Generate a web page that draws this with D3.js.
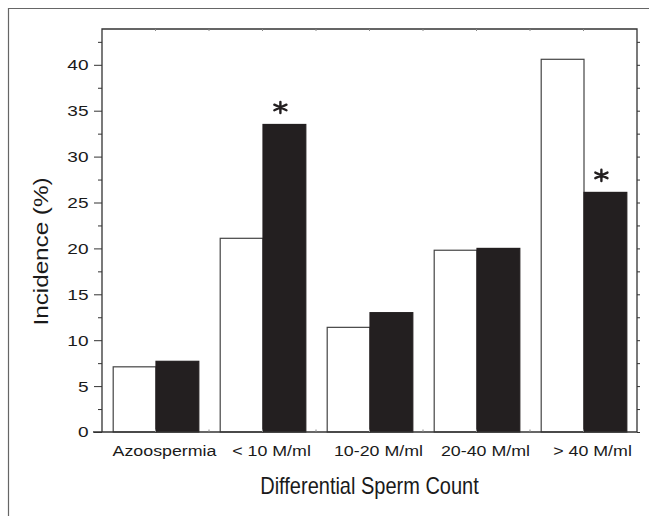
<!DOCTYPE html>
<html><head><meta charset="utf-8">
<script src="https://cdn.jsdelivr.net/npm/d3@7"></script>
<style>body{margin:0;background:#fff}svg{display:block}text{font-family:"Liberation Sans",Arial,sans-serif}</style>
</head><body>
<svg id="c" width="649" height="516"></svg>
<script>
const categories = ["Azoospermia", "< 10 M/ml", "10-20 M/ml", "20-40 M/ml", "> 40 M/ml"];
const seriesNames = ["Group A", "Group B"];
const whiteValues = [7.1, 21.1, 11.4, 19.8, 40.6];
const blackValues = [7.7, 33.5, 13.0, 20.0, 26.1];
const significant = [false, true, false, false, true];
const yMajorTicks = [0, 5, 10, 15, 20, 25, 30, 35, 40];
const yMinorTicks = [2.5, 7.5, 12.5, 17.5, 22.5, 27.5, 32.5, 37.5, 42.5];

const svg = d3.select("#c");
const m = {left: 102, right: 637, top: 29, bottom: 432};
const axisColor = "#333";
const textColor = "#1a1a1a";

// outer frame
svg.append("path").attr("d", "M8.5,516 V8.5 H649").attr("fill", "none").attr("stroke", "#666").attr("stroke-width", 1.2);

const x = d3.scaleBand().domain(categories).range([m.left, m.right]).paddingInner(0.2).paddingOuter(0.1);
const y = d3.scaleLinear().domain([0, 43.9]).range([m.bottom, m.top]);
const xs = d3.scaleBand().domain(seriesNames).range([0, x.bandwidth()]);

const data = categories.map((c, i) => ({c, vals: [whiteValues[i], blackValues[i]], sig: significant[i]}));

const groups = svg.append("g").selectAll("g.grp").data(data).join("g").attr("transform", d => `translate(${x(d.c)},0)`);
groups.selectAll("rect").data(d => d.vals.map((v, j) => ({v, s: seriesNames[j], j})))
  .join("rect")
  .attr("x", d => xs(d.s) + 0.5)
  .attr("y", d => y(d.v))
  .attr("width", xs.bandwidth())
  .attr("height", d => y(0) - y(d.v))
  .attr("fill", d => d.j === 0 ? "#fff" : "#231f20")
  .attr("stroke", d => d.j === 0 ? "#444" : "#231f20")
  .attr("stroke-width", 1.2);

// asterisks (6-armed, slightly wide)
const r = 5.6;
const astPath = `M0,${-r}V${r}` +
  `M${-r*0.866*1.25},${-r/2}L${r*0.866*1.25},${r/2}` +
  `M${-r*0.866*1.25},${r/2}L${r*0.866*1.25},${-r/2}`;
groups.filter(d => d.sig).append("path")
  .attr("transform", d => `translate(${xs("Group B") + xs.bandwidth() / 2 - 3.5},${y(d.vals[1]) - 17})`)
  .attr("d", astPath)
  .attr("stroke", "#231f20").attr("stroke-width", 2.4).attr("stroke-linecap", "round").attr("fill", "none");

// Left axis major ticks
const left = svg.append("g").attr("transform", `translate(${m.left},0)`)
  .call(d3.axisLeft(y).tickValues(yMajorTicks).tickSize(8).tickFormat(""));
left.select(".domain").remove();
left.selectAll("line").attr("stroke", axisColor);
// Left minor
const leftMinor = svg.append("g").attr("transform", `translate(${m.left},0)`)
  .call(d3.axisLeft(y).tickValues(yMinorTicks).tickSize(4).tickFormat(""));
leftMinor.select(".domain").remove();
leftMinor.selectAll("line").attr("stroke", axisColor);
// Y tick labels (wide rendering)
svg.append("g").selectAll("text").data(yMajorTicks).join("text")
  .attr("transform", d => `translate(88.5,${y(d) + 5.4}) scale(1.27,1)`)
  .attr("text-anchor", "end").attr("font-size", 15).attr("fill", textColor)
  .text(d => d3.format("d")(d));

// Right axis ticks
const right = svg.append("g").attr("transform", `translate(${m.right},0)`)
  .call(d3.axisRight(y).tickValues(yMajorTicks.concat(yMinorTicks)).tickSize(3).tickFormat(""));
right.select(".domain").remove();
right.selectAll("line").attr("stroke", axisColor);

// Frame lines
svg.append("path").attr("d", `M${m.left},${m.bottom} V${m.top} H${m.right} V${m.bottom}`)
  .attr("fill", "none").attr("stroke", axisColor).attr("stroke-width", 1.3);
svg.append("line").attr("x1", 93).attr("x2", m.right).attr("y1", m.bottom).attr("y2", m.bottom)
  .attr("stroke", axisColor).attr("stroke-width", 1.6);

// Top/bottom small ticks at centers and boundaries
const xTickPos = [];
categories.forEach(c => { xTickPos.push(x(c) - x.step() * 0.1); xTickPos.push(x(c) + x.bandwidth() / 2); });
const innerTicks = xTickPos.slice(1);
svg.append("g").selectAll("line").data(innerTicks).join("line")
  .attr("x1", d => d).attr("x2", d => d).attr("y1", m.top).attr("y2", m.top + 2)
  .attr("stroke", "#888");
svg.append("g").selectAll("line").data(innerTicks).join("line")
  .attr("x1", d => d).attr("x2", d => d).attr("y1", m.bottom - 2.5).attr("y2", m.bottom)
  .attr("stroke", "#888");

// Bottom category labels
svg.append("g").selectAll("text").data(categories).join("text")
  .attr("transform", c => `translate(${x(c) + x.bandwidth() / 2 + 9},455.5) scale(1.15,1)`)
  .attr("text-anchor", "middle").attr("font-size", 15.5).attr("fill", textColor)
  .text(c => c);

// Titles
svg.append("text").attr("transform", `translate(${(m.left + m.right) / 2},494.3) scale(1,1.2)`)
  .attr("text-anchor", "middle")
  .attr("font-size", 20).attr("fill", textColor).text("Differential Sperm Count");
svg.append("text").attr("transform", "translate(47.5,251.5) rotate(-90)").attr("text-anchor", "middle")
  .attr("textLength", 148).attr("lengthAdjust", "spacingAndGlyphs")
  .attr("font-size", 20.5).attr("fill", textColor).text("Incidence (%)");
</script>
</body></html>
